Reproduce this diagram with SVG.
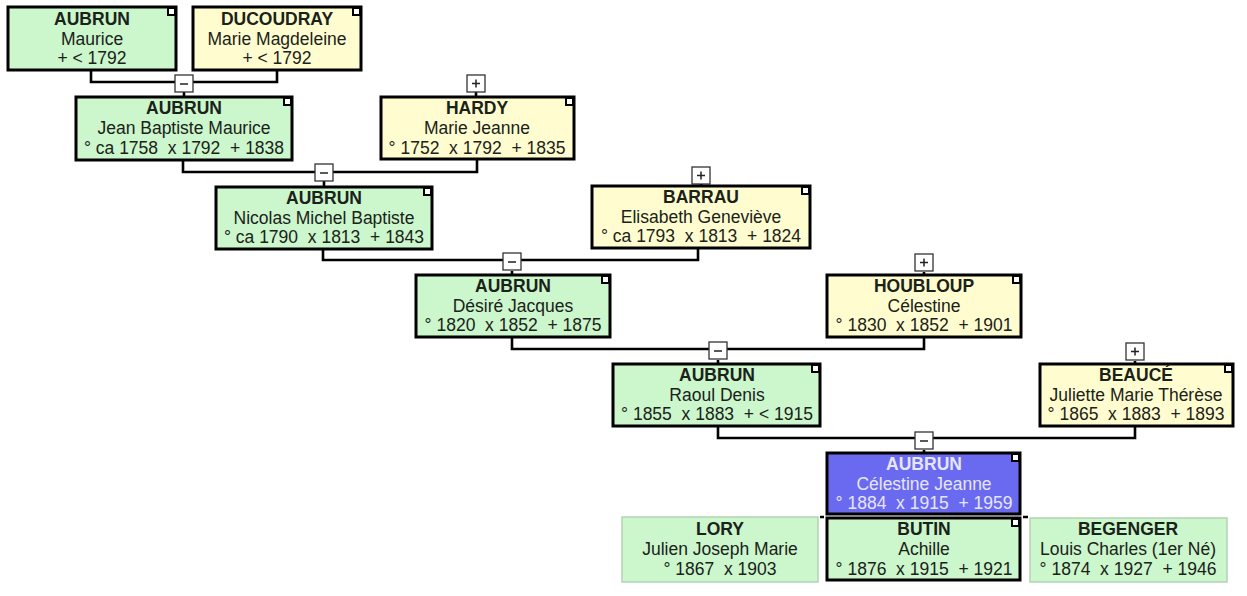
<svg xmlns="http://www.w3.org/2000/svg" width="1247" height="596" viewBox="0 0 1247 596">
<style>
text{font-family:"Liberation Sans",Arial,sans-serif;font-size:17.5px;fill:#1a221a;text-anchor:middle;white-space:pre}
.b{font-weight:bold}
.g{fill:#ccf6cc;stroke:#000;stroke-width:3}
.y{fill:#fffdcf;stroke:#000;stroke-width:3}
.s{fill:#6a6af0;stroke:#000;stroke-width:3}
.t{fill:#ccf6cc;stroke:#b4d2b4;stroke-width:1.5}
.w{fill:#e6e6fa}
.c{fill:#fff;stroke:#000;stroke-width:2}
.ln{fill:none;stroke:#000;stroke-width:2.6}
.bx{fill:#fff;stroke:#333;stroke-width:1.3}
.sg{stroke:#222;stroke-width:1.5}
</style>
<rect width="1247" height="596" fill="#fff"/>
<g id="connectors">
<path class="ln" d="M91,70V82H277V70M184,92V97"/>
<path class="ln" d="M183,160V172H477V159M324,181V187M476,92V97"/>
<path class="ln" d="M323,249V260H698V248M512,271V275M701,184V186"/>
<path class="ln" d="M512,337V349H924V337M718,360V364M924,272V275"/>
<path class="ln" d="M718,426V438H1135V427M924,450V453M1135,361V364"/>
<path class="ln" d="M820,517H824M1023,517H1028" stroke-width="2"/>
<g id="tog1"><rect class="bx" x="175" y="75" width="18" height="17"/><path class="sg" d="M180,84H188"/></g>
<g id="tog2"><rect class="bx" x="467" y="75" width="18" height="17"/><path class="sg" d="M472,83.5H480M476,79.5V87.5"/></g>
<g id="tog3"><rect class="bx" x="315" y="164" width="18" height="17"/><path class="sg" d="M320,173H328"/></g>
<g id="tog4"><rect class="bx" x="692" y="167" width="18" height="17"/><path class="sg" d="M697,175.5H705M701,171.5V179.5"/></g>
<g id="tog5"><rect class="bx" x="503" y="253" width="18" height="17"/><path class="sg" d="M508,262H516"/></g>
<g id="tog6"><rect class="bx" x="915" y="254" width="18" height="17"/><path class="sg" d="M920,262.5H928M924,258.5V266.5"/></g>
<g id="tog7"><rect class="bx" x="709" y="342" width="18" height="17"/><path class="sg" d="M714,351H722"/></g>
<g id="tog8"><rect class="bx" x="1126" y="343" width="18" height="17"/><path class="sg" d="M1131,351.5H1139M1135,347.5V355.5"/></g>
<g id="tog9"><rect class="bx" x="915" y="432" width="18" height="17"/><path class="sg" d="M920,441H928"/></g>
</g>
<g id="n1"><rect class="g" x="8" y="7" width="168" height="63"/><rect class="c" x="168" y="8" width="7" height="7"/>
<text x="92" y="25" class="b">AUBRUN</text><text x="92" y="45">Maurice</text><text x="92" y="64">+ &lt; 1792</text></g>
<g id="n2"><rect class="y" x="193" y="7" width="168" height="63"/><rect class="c" x="353" y="8" width="7" height="7"/>
<text x="277" y="25" class="b">DUCOUDRAY</text><text x="277" y="45">Marie Magdeleine</text><text x="277" y="64">+ &lt; 1792</text></g>
<g id="n3"><rect class="g" x="76" y="97" width="216" height="63"/><rect class="c" x="284" y="98" width="7" height="7"/>
<text x="184" y="114" class="b">AUBRUN</text><text x="184" y="134">Jean Baptiste Maurice</text><text x="184" y="154">° ca 1758  x 1792  + 1838</text></g>
<g id="n4"><rect class="y" x="381" y="97" width="193" height="62"/><rect class="c" x="566" y="98" width="7" height="7"/>
<text x="477" y="114" class="b">HARDY</text><text x="477" y="134">Marie Jeanne</text><text x="477" y="154">° 1752  x 1792  + 1835</text></g>
<g id="n5"><rect class="g" x="216" y="187" width="216" height="62"/><rect class="c" x="424" y="188" width="7" height="7"/>
<text x="324" y="204" class="b">AUBRUN</text><text x="324" y="224">Nicolas Michel Baptiste</text><text x="324" y="243">° ca 1790  x 1813  + 1843</text></g>
<g id="n6"><rect class="y" x="592" y="186" width="218" height="62"/><rect class="c" x="802" y="187" width="7" height="7"/>
<text x="701" y="203" class="b">BARRAU</text><text x="701" y="223">Elisabeth Geneviève</text><text x="701" y="242">° ca 1793  x 1813  + 1824</text></g>
<g id="n7"><rect class="g" x="416" y="275" width="194" height="62"/><rect class="c" x="602" y="276" width="7" height="7"/>
<text x="513" y="292" class="b">AUBRUN</text><text x="513" y="312">Désiré Jacques</text><text x="513" y="331">° 1820  x 1852  + 1875</text></g>
<g id="n8"><rect class="y" x="827" y="275" width="194" height="62"/><rect class="c" x="1013" y="276" width="7" height="7"/>
<text x="924" y="292" class="b">HOUBLOUP</text><text x="924" y="312">Célestine</text><text x="924" y="331">° 1830  x 1852  + 1901</text></g>
<g id="n9"><rect class="g" x="613" y="364" width="207" height="62"/><rect class="c" x="812" y="365" width="7" height="7"/>
<text x="717" y="381" class="b">AUBRUN</text><text x="717" y="401">Raoul Denis</text><text x="717" y="420">° 1855  x 1883  + &lt; 1915</text></g>
<g id="n10"><rect class="y" x="1040" y="364" width="193" height="62"/><rect class="c" x="1225" y="365" width="7" height="7"/>
<text x="1136" y="381" class="b">BEAUCÉ</text><text x="1136" y="401">Juliette Marie Thérèse</text><text x="1136" y="420">° 1865  x 1883  + 1893</text></g>
<g id="n11"><rect class="s" x="827" y="453" width="193" height="61"/><rect class="c" x="1012" y="454" width="7" height="7"/>
<text x="924" y="470" class="b w">AUBRUN</text><text x="924" y="490" class="w">Célestine Jeanne</text><text x="924" y="509" class="w">° 1884  x 1915  + 1959</text></g>
<g id="n12"><rect class="t" x="622" y="517" width="196" height="65"/>
<text x="720" y="535" class="b">LORY</text><text x="720" y="555">Julien Joseph Marie</text><text x="720" y="575">° 1867  x 1903</text></g>
<g id="n13"><rect class="g" x="827" y="518" width="193" height="62"/><rect class="c" x="1012" y="519" width="7" height="7"/>
<text x="924" y="535" class="b">BUTIN</text><text x="924" y="555">Achille</text><text x="924" y="575">° 1876  x 1915  + 1921</text></g>
<g id="n14"><rect class="t" x="1030" y="518" width="197" height="64"/>
<text x="1128" y="535" class="b">BEGENGER</text><text x="1128" y="555">Louis Charles (1er Né)</text><text x="1128" y="575">° 1874  x 1927  + 1946</text></g>
</svg>
